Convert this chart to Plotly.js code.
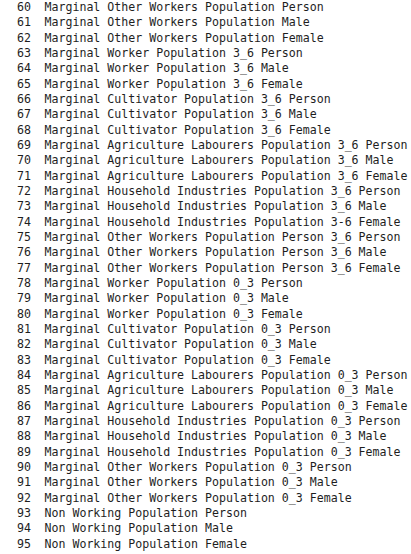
<!DOCTYPE html>
<html>
<head>
<meta charset="utf-8">
<script src="https://cdn.plot.ly/plotly-3.0.1.min.js"></script>
<style>html,body{margin:0;padding:0;background:#fff}#chart{width:411px;height:554px}</style>
</head>
<body>
<div id="chart"></div>
<script>
// row numbers and labels of the listing
const rowNumbers = [60,61,62,63,64,65,66,67,68,69,70,71,72,73,74,75,76,77,78,79,80,81,82,83,84,85,86,87,88,89,90,91,92,93,94,95];
const rowLabels = [
    'Marginal Other Workers Population Person',
    'Marginal Other Workers Population Male',
    'Marginal Other Workers Population Female',
    'Marginal Worker Population 3_6 Person',
    'Marginal Worker Population 3_6 Male',
    'Marginal Worker Population 3_6 Female',
    'Marginal Cultivator Population 3_6 Person',
    'Marginal Cultivator Population 3_6 Male',
    'Marginal Cultivator Population 3_6 Female',
    'Marginal Agriculture Labourers Population 3_6 Person',
    'Marginal Agriculture Labourers Population 3_6 Male',
    'Marginal Agriculture Labourers Population 3_6 Female',
    'Marginal Household Industries Population 3_6 Person',
    'Marginal Household Industries Population 3_6 Male',
    'Marginal Household Industries Population 3-6 Female',
    'Marginal Other Workers Population Person 3_6 Person',
    'Marginal Other Workers Population Person 3_6 Male',
    'Marginal Other Workers Population Person 3_6 Female',
    'Marginal Worker Population 0_3 Person',
    'Marginal Worker Population 0_3 Male',
    'Marginal Worker Population 0_3 Female',
    'Marginal Cultivator Population 0_3 Person',
    'Marginal Cultivator Population 0_3 Male',
    'Marginal Cultivator Population 0_3 Female',
    'Marginal Agriculture Labourers Population 0_3 Person',
    'Marginal Agriculture Labourers Population 0_3 Male',
    'Marginal Agriculture Labourers Population 0_3 Female',
    'Marginal Household Industries Population 0_3 Person',
    'Marginal Household Industries Population 0_3 Male',
    'Marginal Household Industries Population 0_3 Female',
    'Marginal Other Workers Population 0_3 Person',
    'Marginal Other Workers Population 0_3 Male',
    'Marginal Other Workers Population 0_3 Female',
    'Non Working Population Person',
    'Non Working Population Male',
    'Non Working Population Female'
];

const rowIdx = rowNumbers.map((n, i) => i);
const FONT = { family: 'DejaVu Sans Mono, monospace', size: 11.6, color: '#1e1e1e' };

const traces = [
    {
        x: rowIdx.map(() => 17),
        y: rowIdx,
        text: rowNumbers.map(String),
        type: 'scatter', mode: 'text',
        textposition: 'middle right',
        textfont: FONT, hoverinfo: 'skip'
    },
    {
        x: rowIdx.map(() => 44.5),
        y: rowIdx,
        text: rowLabels,
        type: 'scatter', mode: 'text',
        textposition: 'middle right',
        textfont: FONT, hoverinfo: 'skip'
    }
];

const layout = {
    width: 411, height: 554,
    margin: { l: 0, r: 0, t: 0, b: 0 },
    paper_bgcolor: '#fff', plot_bgcolor: '#fff',
    showlegend: false,
    xaxis: { range: [0, 411], visible: false, fixedrange: true },
    yaxis: { range: [35.6, -0.52], visible: false, fixedrange: true }
};

Plotly.newPlot('chart', traces, layout, { displayModeBar: false, staticPlot: true });
</script>
</body>
</html>
